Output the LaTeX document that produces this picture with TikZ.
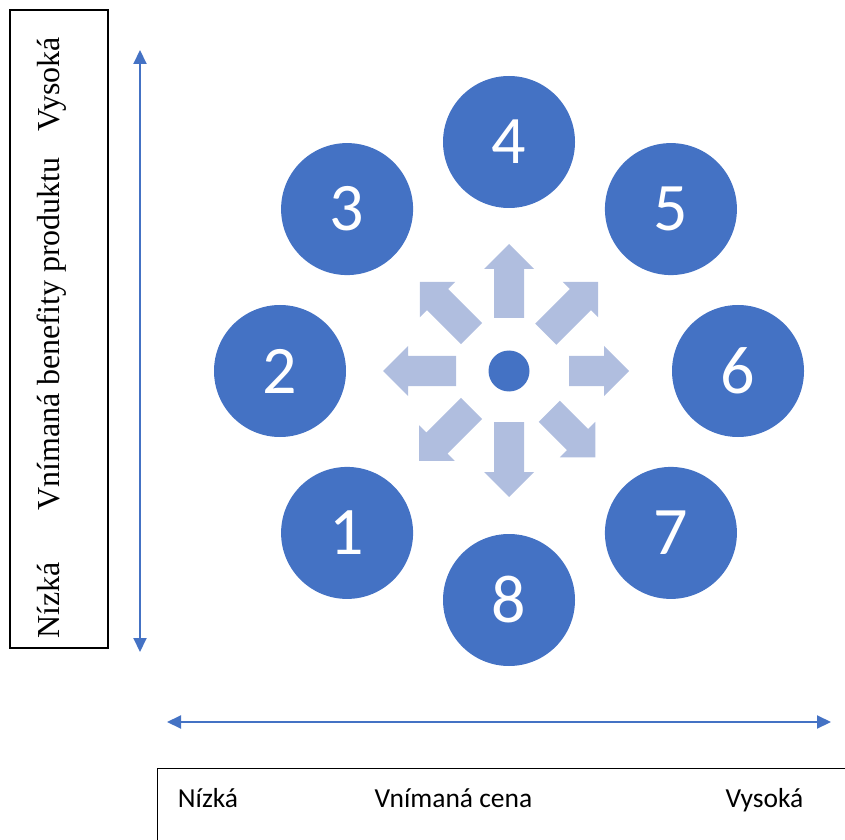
\documentclass[tikz,border=0pt]{standalone}
\usepackage{fontspec}
\setmainfont{Liberation Serif}
\newfontfamily\calibri{Carlito}
\definecolor{primary}{RGB}{68, 114, 196}
\definecolor{primarylight}{RGB}{176, 190, 223}
\usetikzlibrary{arrows.meta, positioning, calc}

\begin{document}
\begin{tikzpicture}[x=1pt, y=1pt,
    segment/.style={circle, fill=primary, minimum size=132pt, inner sep=0pt,
      text=white, font=\calibri\fontsize{68}{68}\selectfont},
    axisarrow/.style={primary, line width=2pt,
      {Triangle[width=13pt,length=14pt]}-{Triangle[width=13pt,length=14pt]}},
    axislabel/.style={font=\fontsize{32}{32}\selectfont, rotate=90, inner sep=0pt},
    pricelabel/.style={font=\calibri\fontsize{27.5}{27.5}\selectfont, inner sep=0pt, anchor=base}]
  \useasboundingbox (0,0) rectangle (845,839);
  \clip (0,0) rectangle (845,839);

  % osa benefitu
  \node[draw, line width=1.2pt, minimum width=98pt, minimum height=638pt, inner sep=0pt] (benefitbox) at (59,510) {};
  \node[axislabel, anchor=base west] (benefitlow) at (59.5,200) {Nízká};
  \node[axislabel, anchor=base] (benefittitle) at (59.5,505) {Vnímaná benefity produktu};
  \node[axislabel, anchor=base east] (benefithigh) at (59.5,802) {Vysoká};
  \coordinate (benefittop) at (140,789);
  \coordinate (benefitbottom) at (140,187);
  \draw[axisarrow] (benefitbottom) -- (benefittop);

  % osa ceny
  \coordinate (priceleft) at (167,117);
  \coordinate (priceright) at (831,117);
  \draw[axisarrow] (priceleft) -- (priceright);
  \node[draw, line width=1.2pt, minimum width=700pt, minimum height=90pt, inner sep=0pt, anchor=north west] (pricebox) at (157,71) {};
  \node[pricelabel] (pricelow) at (208,32) {Nízká};
  \node[pricelabel] (pricetitle) at (453.5,32) {Vnímaná cena};
  \node[pricelabel] (pricehigh) at (764.5,32) {Vysoká};

  % stred a segmenty
  \node[circle, fill=primary, minimum size=41pt, inner sep=0pt] (hub) at (509,468) {};
  \foreach \ang/\s/\t in {0/60/120, 45/52/126, 90/53/127, 135/53/126, 180/53/126, 225/53/127, 270/51/126, 315/57/122}
    \fill[primarylight, shift={(hub)}, rotate=\ang]
      (\s,-15) -- ({\t-25},-15) -- ({\t-25},-25) -- (\t,0) -- ({\t-25},25) -- ({\t-25},15) -- (\s,15) -- cycle;
  \foreach \n in {1,...,8}
    \node[segment] (seg\n) at ($(hub)+({90+(4-\n)*45}:229)$) {\n};
\end{tikzpicture}
\end{document}
